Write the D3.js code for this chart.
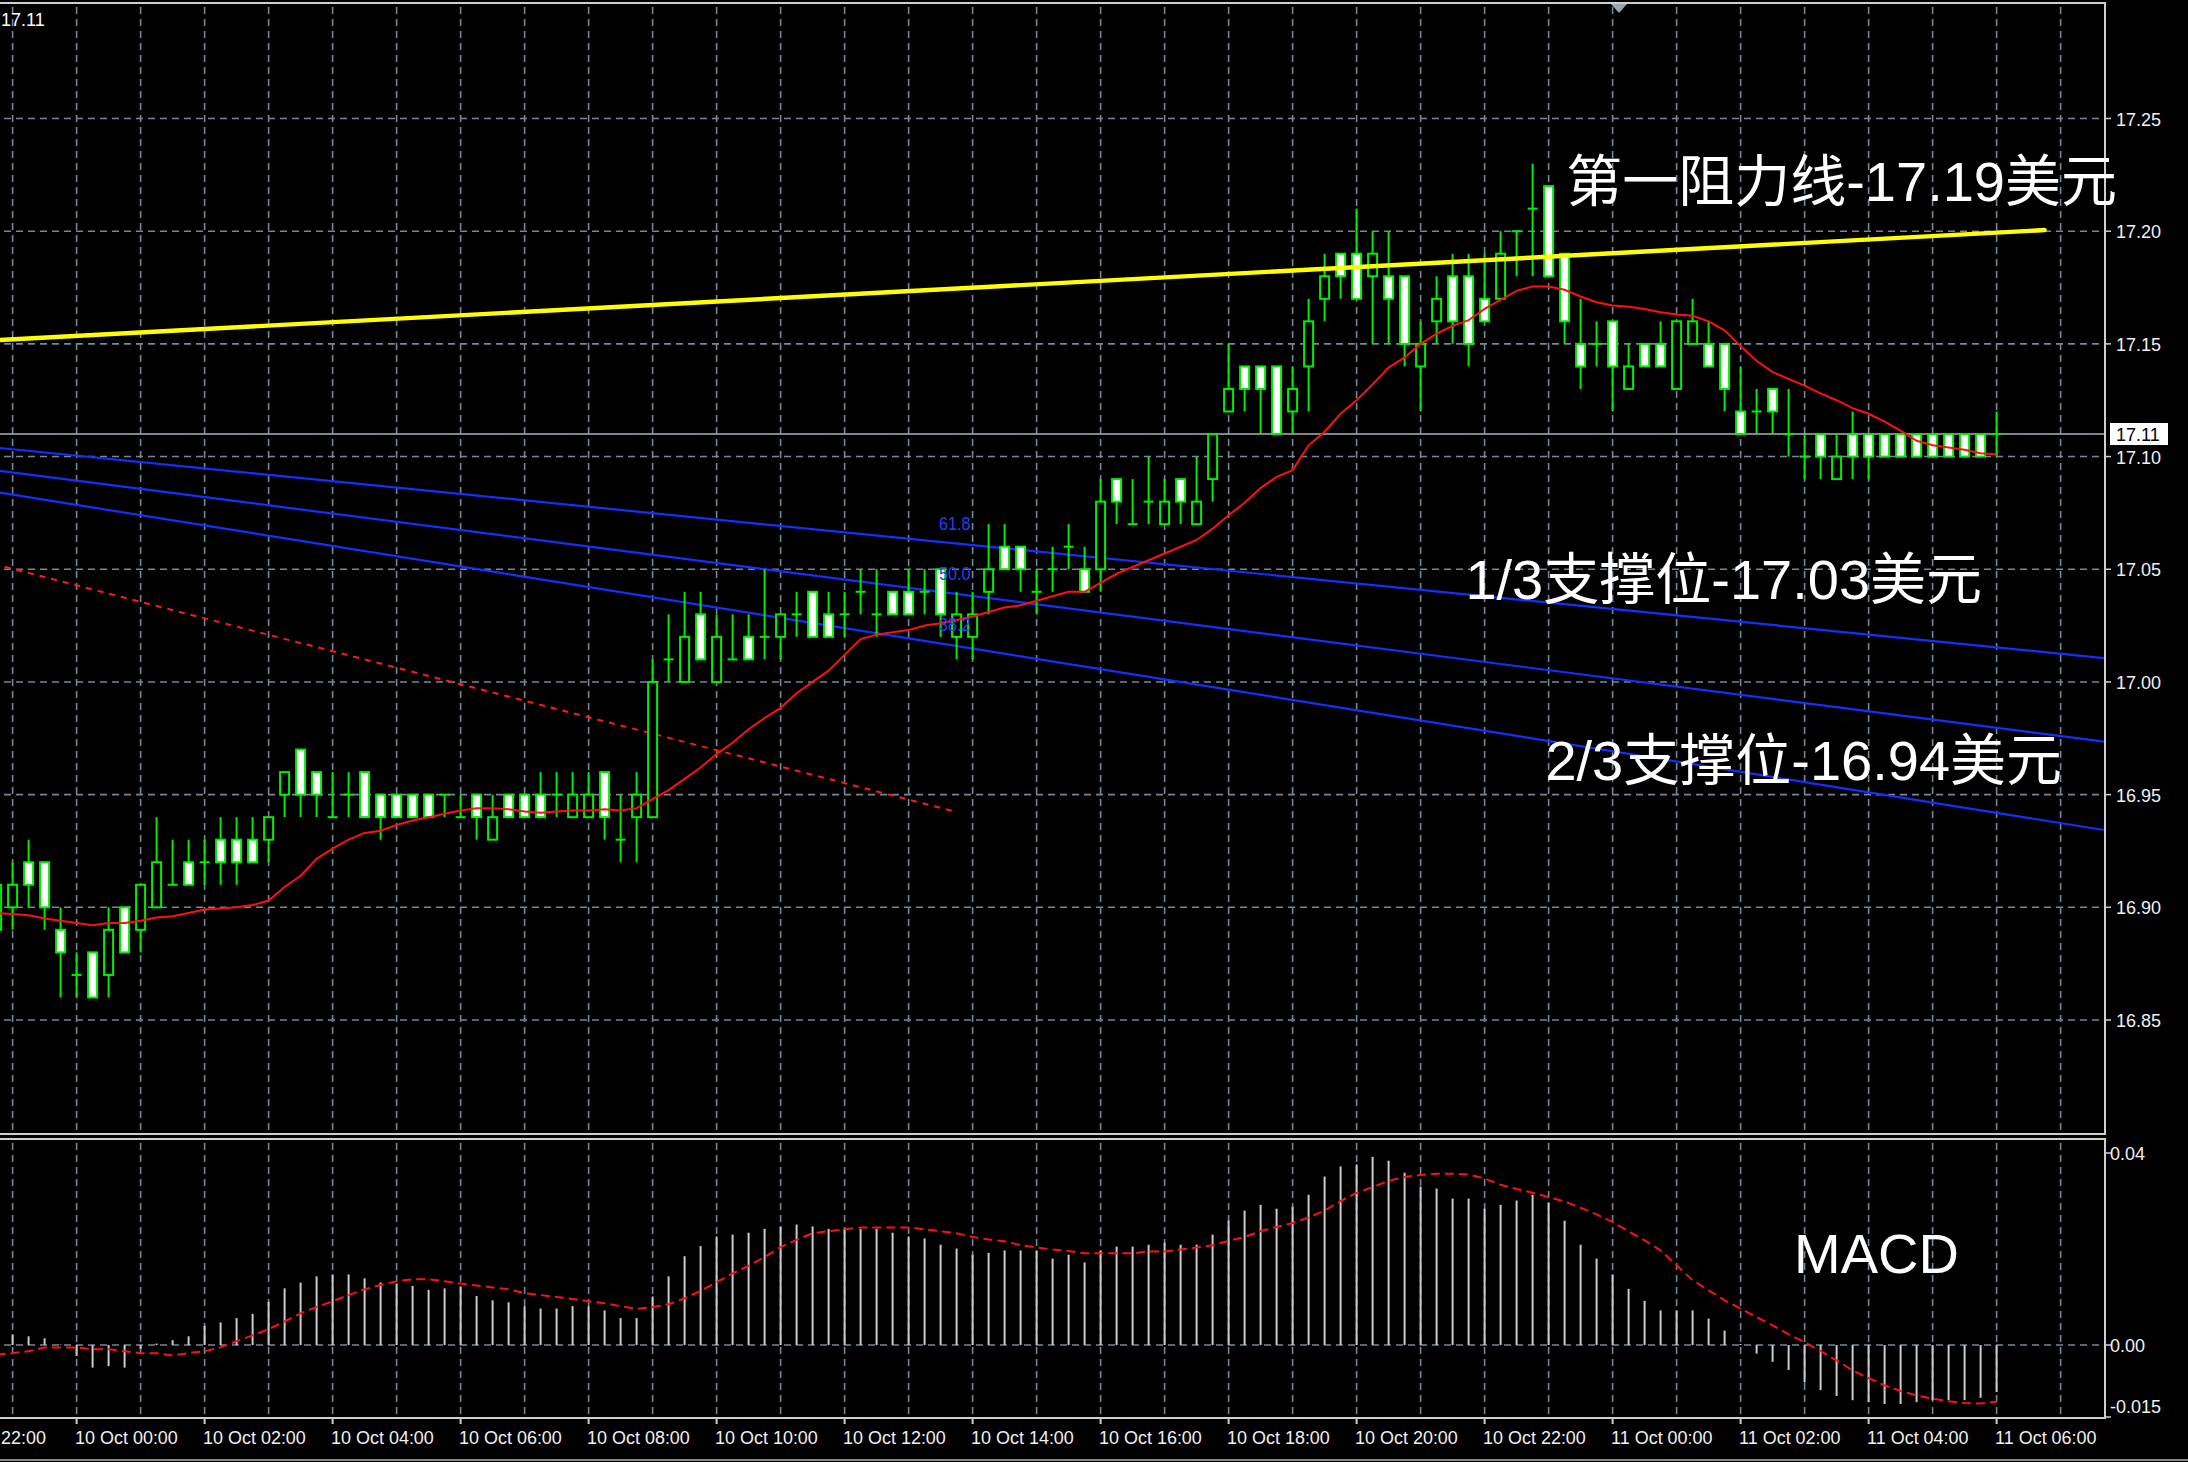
<!DOCTYPE html>
<html><head><meta charset="utf-8">
<script src="https://cdn.jsdelivr.net/npm/d3@7/dist/d3.min.js"></script>
<style>html,body{margin:0;padding:0;background:#000;overflow:hidden}svg{display:block}</style>
</head><body>
<svg id="c" width="2188" height="1462"></svg>
<script>
// ---------------- DATA ----------------
const firstBar = -1; // bar index of first value (bars are 15-minute, index 0 = 9 Oct 23:00)
const opens  = [16.89,16.90,16.92,16.92,16.89,16.87,16.88,16.87,16.90,16.89,16.90,16.91,16.92,16.92,16.93,16.93,16.93,16.93,16.95,16.97,16.96,16.94,16.95,16.96,16.95,16.95,16.95,16.95,16.95,16.94,16.95,16.93,16.95,16.95,16.95,16.95,16.94,16.94,16.96,16.93,16.94,16.94,17.01,17.00,17.03,17.00,17.01,17.02,17.02,17.02,17.03,17.04,17.03,17.03,17.04,17.03,17.04,17.04,17.04,17.05,17.02,17.02,17.04,17.06,17.06,17.04,17.05,17.06,17.05,17.05,17.09,17.07,17.08,17.07,17.09,17.07,17.09,17.12,17.14,17.14,17.14,17.12,17.14,17.17,17.19,17.19,17.18,17.18,17.18,17.14,17.16,17.18,17.18,17.17,17.17,17.20,17.21,17.22,17.19,17.15,17.15,17.16,17.13,17.15,17.15,17.13,17.15,17.15,17.15,17.12,17.12,17.13,17.11,17.10,17.11,17.09,17.11,17.11,17.11,17.11,17.11,17.11,17.11,17.11,17.11,17.11];
const highs  = [16.92,16.92,16.93,16.92,16.90,16.88,16.88,16.90,16.90,16.91,16.94,16.93,16.93,16.93,16.94,16.94,16.94,16.94,16.96,16.97,16.96,16.96,16.96,16.96,16.95,16.95,16.95,16.95,16.95,16.95,16.95,16.95,16.95,16.95,16.96,16.96,16.96,16.96,16.96,16.95,16.96,17.01,17.03,17.04,17.04,17.03,17.03,17.03,17.05,17.03,17.04,17.04,17.04,17.04,17.05,17.05,17.04,17.05,17.05,17.05,17.04,17.04,17.07,17.07,17.06,17.05,17.06,17.07,17.06,17.09,17.09,17.09,17.10,17.09,17.09,17.10,17.11,17.15,17.14,17.14,17.14,17.14,17.17,17.19,17.19,17.21,17.20,17.20,17.18,17.16,17.18,17.19,17.19,17.19,17.20,17.20,17.23,17.22,17.19,17.17,17.16,17.16,17.15,17.15,17.16,17.16,17.17,17.16,17.15,17.14,17.13,17.13,17.13,17.11,17.11,17.11,17.12,17.11,17.11,17.11,17.11,17.11,17.11,17.11,17.11,17.12];
const lows   = [16.89,16.89,16.90,16.89,16.86,16.86,16.86,16.86,16.88,16.88,16.90,16.91,16.91,16.91,16.91,16.91,16.92,16.92,16.94,16.94,16.94,16.94,16.94,16.94,16.93,16.94,16.94,16.94,16.94,16.94,16.93,16.93,16.94,16.94,16.94,16.94,16.94,16.94,16.93,16.92,16.92,16.94,17.00,17.00,17.01,17.00,17.01,17.01,17.01,17.01,17.02,17.02,17.02,17.02,17.03,17.02,17.03,17.03,17.03,17.02,17.01,17.01,17.03,17.05,17.04,17.03,17.04,17.05,17.04,17.04,17.07,17.07,17.07,17.07,17.07,17.07,17.08,17.12,17.12,17.11,17.11,17.11,17.12,17.16,17.17,17.17,17.15,17.15,17.14,17.12,17.15,17.15,17.14,17.16,17.17,17.18,17.18,17.18,17.15,17.13,17.14,17.12,17.13,17.14,17.14,17.13,17.15,17.14,17.12,17.11,17.11,17.11,17.10,17.09,17.09,17.09,17.09,17.09,17.10,17.10,17.10,17.10,17.10,17.10,17.10,17.10];
const closes = [16.91,16.91,16.91,16.90,16.88,16.87,16.86,16.89,16.88,16.91,16.92,16.91,16.91,16.92,16.92,16.92,16.92,16.94,16.96,16.95,16.95,16.94,16.95,16.94,16.94,16.94,16.94,16.94,16.95,16.94,16.94,16.94,16.94,16.94,16.94,16.95,16.95,16.95,16.94,16.93,16.95,17.00,17.01,17.02,17.01,17.02,17.01,17.01,17.02,17.03,17.03,17.02,17.02,17.03,17.04,17.03,17.03,17.03,17.04,17.03,17.03,17.03,17.05,17.05,17.05,17.04,17.05,17.06,17.04,17.08,17.08,17.07,17.08,17.08,17.08,17.08,17.11,17.13,17.13,17.13,17.11,17.13,17.16,17.18,17.18,17.17,17.19,17.17,17.15,17.15,17.17,17.16,17.15,17.16,17.19,17.20,17.21,17.18,17.16,17.14,17.15,17.14,17.14,17.14,17.14,17.16,17.16,17.14,17.13,17.11,17.12,17.12,17.11,17.10,17.10,17.10,17.10,17.10,17.10,17.10,17.10,17.10,17.10,17.10,17.10,17.11];
const maValues = [16.8975,16.897,16.8965,16.895,16.894,16.893,16.892,16.893,16.893,16.894,16.8955,16.896,16.8975,16.899,16.8995,16.900,16.901,16.903,16.909,16.914,16.9215,16.926,16.930,16.933,16.934,16.9365,16.9385,16.940,16.9415,16.943,16.944,16.944,16.9435,16.9425,16.942,16.9425,16.943,16.943,16.9435,16.943,16.944,16.948,16.952,16.957,16.962,16.968,16.973,16.979,16.984,16.9885,16.995,17.000,17.005,17.012,17.019,17.021,17.022,17.023,17.025,17.026,17.0275,17.029,17.031,17.033,17.034,17.036,17.038,17.040,17.040,17.044,17.048,17.051,17.054,17.057,17.060,17.063,17.068,17.074,17.0795,17.086,17.091,17.094,17.105,17.111,17.119,17.125,17.132,17.1395,17.144,17.150,17.1545,17.158,17.1605,17.1655,17.1695,17.1735,17.1755,17.1755,17.174,17.171,17.1685,17.167,17.1665,17.1655,17.164,17.163,17.1625,17.160,17.156,17.149,17.1425,17.1375,17.1345,17.1315,17.128,17.125,17.1215,17.119,17.1155,17.1115,17.107,17.105,17.104,17.103,17.1015,17.101];
const macdHist = [0.002,0.0022,0.0018,0.0014,0.0001,-0.0023,-0.0047,-0.0044,-0.0047,-0.0008,0.0003,0.001,0.0018,0.004,0.0047,0.0056,0.0065,0.009,0.0118,0.013,0.0143,0.0147,0.0147,0.0139,0.013,0.0128,0.0123,0.0115,0.0118,0.0122,0.0102,0.0093,0.0089,0.0081,0.0076,0.0076,0.0081,0.0081,0.0072,0.0056,0.0056,0.0101,0.0143,0.0185,0.0206,0.0226,0.023,0.0234,0.0242,0.0247,0.0251,0.0247,0.0242,0.0242,0.0242,0.0242,0.0234,0.0226,0.0222,0.0209,0.0201,0.0188,0.0192,0.0197,0.0197,0.0197,0.018,0.0188,0.0172,0.0197,0.0205,0.0205,0.0209,0.0213,0.0209,0.0209,0.023,0.0259,0.028,0.0292,0.0284,0.0288,0.0313,0.0351,0.0372,0.0376,0.0392,0.0384,0.0359,0.033,0.0326,0.0305,0.0305,0.0284,0.0292,0.0301,0.0313,0.0297,0.0259,0.0209,0.018,0.0147,0.0117,0.0092,0.0072,0.0072,0.0072,0.0055,0.003,0.0002,-0.0018,-0.0035,-0.0052,-0.0078,-0.0094,-0.0106,-0.0115,-0.0119,-0.0123,-0.0123,-0.0119,-0.0115,-0.0115,-0.0115,-0.011,-0.0098];
const macdSignal = [-0.002,-0.0017,-0.0013,-0.0005,-0.0005,-0.0005,-0.0009,-0.0009,-0.0013,-0.0017,-0.0017,-0.0022,-0.0017,-0.0013,-0.0005,0.0008,0.002,0.0033,0.0049,0.0066,0.0079,0.0091,0.0104,0.0116,0.0125,0.0133,0.0137,0.0137,0.0133,0.0128,0.0124,0.012,0.0116,0.0108,0.0104,0.01,0.0096,0.0091,0.0087,0.0081,0.0075,0.0079,0.0085,0.0097,0.0113,0.0131,0.0149,0.0165,0.0183,0.0204,0.0219,0.0233,0.0237,0.0241,0.0245,0.0245,0.0245,0.0245,0.0241,0.0237,0.0233,0.0225,0.022,0.0216,0.0208,0.0203,0.0199,0.0196,0.0191,0.0191,0.0191,0.0191,0.0195,0.0195,0.0199,0.0203,0.0208,0.0217,0.0225,0.0237,0.0246,0.0254,0.0266,0.028,0.03,0.0317,0.0329,0.0342,0.035,0.0354,0.0357,0.0357,0.0355,0.0347,0.0334,0.0325,0.0317,0.0308,0.0299,0.0286,0.0272,0.0256,0.0237,0.0218,0.0197,0.0166,0.0135,0.0114,0.0093,0.0076,0.0058,0.0041,0.0022,0.0006,-0.0013,-0.0032,-0.0053,-0.0069,-0.0084,-0.0096,-0.0105,-0.0112,-0.0117,-0.0121,-0.0122,-0.0118];
const priceTicks = [16.85,16.90,16.95,17.00,17.05,17.10,17.15,17.20,17.25];
const macdTicks = [0.04,0.00,-0.015];
const macdTickLabels = ["0.04","0.00","-0.015"];
const timeLabels = ["22:00","10 Oct 00:00","10 Oct 02:00","10 Oct 04:00","10 Oct 06:00","10 Oct 08:00","10 Oct 10:00","10 Oct 12:00","10 Oct 14:00","10 Oct 16:00","10 Oct 18:00","10 Oct 20:00","10 Oct 22:00","11 Oct 00:00","11 Oct 02:00","11 Oct 04:00","11 Oct 06:00"];
const timeLabelBars = [-4,4,12,20,28,36,44,52,60,68,76,84,92,100,108,116,124];
const currentPrice = 17.11;
// lines: [bar, price] endpoints
const resistanceLine = [[-0.79,17.1517],[127.0,17.2005]];
const fiboLevels = ["61.8","50.0","38.2"];
const fiboLines = [
  [[-0.79,17.1038],[130.7,17.0106]],
  [[-0.79,17.0937],[130.7,16.9735]],
  [[-0.79,17.0840],[130.7,16.9343]]
];
const dashedTrend = [[-0.5,17.0511],[59.0,16.9423]];
const annotations = [
  {text:"第一阻力线-17.19美元", bar:97.1, price:17.2135},
  {text:"1/3支撑位-17.03美元", bar:90.8, price:17.0370},
  {text:"2/3支撑位-16.94美元", bar:95.8, price:16.9565}
];

// ---------------- LAYOUT ----------------
const svg = d3.select("#c");
const plotRight = 2105, mainTop = 3, mainBottom = 1134, macdTop = 1139, macdBottom = 1418;
const x = d3.scaleLinear().domain([0,124]).range([12.6, 12.6 + 16*124]);
const y = d3.scaleLinear().domain([16.85,17.25]).range([1020,118.5]);
const ym = d3.scaleLinear().domain([0,0.04]).range([1345,1153]);
const gridColor = "#76879a";
const LAT = "'Liberation Sans', Arial, 'Noto Sans CJK SC', sans-serif";

svg.append("rect").attr("width",2188).attr("height",1462).attr("fill","#000");
const defs = svg.append("defs");
defs.append("clipPath").attr("id","cm").append("rect").attr("x",0).attr("y",mainTop).attr("width",plotRight).attr("height",mainBottom-mainTop);
defs.append("clipPath").attr("id","cd").append("rect").attr("x",0).attr("y",macdTop).attr("width",plotRight).attr("height",macdBottom-macdTop);

const main = svg.append("g").attr("clip-path","url(#cm)");
const macd = svg.append("g").attr("clip-path","url(#cd)");

// vertical grid (hourly = every 4 bars)
const gridBars = d3.range(0, 129, 4);
[[main,mainTop,mainBottom],[macd,macdTop,macdBottom]].forEach(([g,t,b])=>{
  g.selectAll(null).data(gridBars).join("line")
    .attr("x1",d=>x(d)).attr("x2",d=>x(d)).attr("y1",t+4).attr("y2",b)
    .attr("stroke",gridColor).attr("stroke-width",1.6).attr("stroke-dasharray","7,5");
});
// horizontal grid
main.selectAll(null).data(priceTicks).join("line")
  .attr("x1",4).attr("x2",plotRight).attr("y1",d=>y(d)).attr("y2",d=>y(d))
  .attr("stroke",gridColor).attr("stroke-width",1.6).attr("stroke-dasharray","7,5");
macd.append("line").attr("x1",4).attr("x2",plotRight).attr("y1",ym(0)).attr("y2",ym(0))
  .attr("stroke",gridColor).attr("stroke-width",1.6).attr("stroke-dasharray","7,5");

// current price line
main.append("line").attr("x1",0).attr("x2",plotRight).attr("y1",y(currentPrice)).attr("y2",y(currentPrice))
  .attr("stroke","#a9b3bc").attr("stroke-width",1.6);

// fibo lines
const lineGen = d3.line().x(d=>x(d[0])).y(d=>y(d[1]));
main.selectAll(null).data(fiboLines).join("path").attr("d",lineGen)
  .attr("fill","none").attr("stroke","#1230ff").attr("stroke-width",2.2);
// dashed red trend line
main.append("path").attr("d",lineGen(dashedTrend)).attr("fill","none")
  .attr("stroke","#ff1a1a").attr("stroke-width",2).attr("stroke-dasharray","6,6");

// candles
const bars = opens.map((o,k)=>({i:firstBar+k,o,h:highs[k],l:lows[k],c:closes[k]}));
const cg = main.append("g");
cg.selectAll(null).data(bars).join("line")
  .attr("x1",d=>x(d.i)).attr("x2",d=>x(d.i)).attr("y1",d=>y(d.h)).attr("y2",d=>y(d.l))
  .attr("stroke","#00ee00").attr("stroke-width",2);
cg.selectAll(null).data(bars.filter(d=>d.o!==d.c)).join("rect")
  .attr("x",d=>x(d.i)-4.5).attr("width",9)
  .attr("y",d=>y(Math.max(d.o,d.c))).attr("height",d=>Math.abs(y(d.o)-y(d.c)))
  .attr("fill",d=>d.c<d.o?"#ffffff":"#000000").attr("stroke","#00ee00").attr("stroke-width",2);
cg.selectAll(null).data(bars.filter(d=>d.o===d.c)).join("line")
  .attr("x1",d=>x(d.i)-5).attr("x2",d=>x(d.i)+5).attr("y1",d=>y(d.o)).attr("y2",d=>y(d.o))
  .attr("stroke","#00ee00").attr("stroke-width",2);

// moving average
main.append("path").datum(maValues)
  .attr("d",d3.line().x((d,k)=>x(firstBar+k)).y(d=>y(d)))
  .attr("fill","none").attr("stroke","#ff1010").attr("stroke-width",2);

// resistance line (yellow)
main.append("path").attr("d",lineGen(resistanceLine)).attr("fill","none")
  .attr("stroke","#ffff00").attr("stroke-width",4.4).attr("stroke-linecap","round");

// fibo labels
const fiboLabelBar = 57.9;
fiboLines.forEach((ln,k)=>{
  const t = (fiboLabelBar - ln[0][0])/(ln[1][0]-ln[0][0]);
  const p = ln[0][1] + t*(ln[1][1]-ln[0][1]);
  const lx = x(fiboLabelBar);
  main.append("text").attr("x",0).attr("y",0)
    .attr("fill","#2040ff").attr("font-family",LAT).attr("font-size",18)
    .attr("transform",`translate(${lx},${y(p)-12}) scale(0.9,1)`)
    .text(fiboLevels[k]);
});

// MACD histogram
const hist = macdHist.map((v,k)=>({i:firstBar+k,v}));
macd.selectAll(null).data(hist).join("line")
  .attr("x1",d=>x(d.i)).attr("x2",d=>x(d.i)).attr("y1",ym(0)).attr("y2",d=>ym(d.v))
  .attr("stroke","#c6ccd2").attr("stroke-width",2);
macd.append("path").datum(macdSignal)
  .attr("d",d3.line().x((d,k)=>x(firstBar+k)).y(d=>ym(d)))
  .attr("fill","none").attr("stroke","#ff1010").attr("stroke-width",2).attr("stroke-dasharray","9,5");

// borders
const bc = "#cfcfcf";
svg.append("rect").attr("x",-2).attr("y",mainTop).attr("width",plotRight+2).attr("height",mainBottom-mainTop)
  .attr("fill","none").attr("stroke",bc).attr("stroke-width",2);
svg.append("rect").attr("x",-2).attr("y",macdTop).attr("width",plotRight+2).attr("height",macdBottom-macdTop)
  .attr("fill","none").attr("stroke",bc).attr("stroke-width",2);
svg.append("line").attr("x1",0).attr("x2",2188).attr("y1",1460).attr("y2",1460).attr("stroke","#8a8a8a").attr("stroke-width",2);

// shift marker
svg.append("path").attr("d","M1611,4 L1627,4 L1619,13 Z").attr("fill","#9aa4ae");

// price axis
const axisFont = LAT;
svg.selectAll(null).data(priceTicks).join("line")
  .attr("x1",plotRight).attr("x2",plotRight+6).attr("y1",d=>y(d)).attr("y2",d=>y(d)).attr("stroke",bc).attr("stroke-width",1.5);
svg.selectAll(null).data(priceTicks).join("text")
  .attr("x",2116).attr("y",d=>y(d)+7).attr("fill","#f0f0f0").attr("font-family",axisFont).attr("font-size",18)
  .text(d=>d.toFixed(2));
// current price box
svg.append("rect").attr("x",2110).attr("y",y(currentPrice)-11).attr("width",58).attr("height",22).attr("fill","#ffffff");
svg.append("text").attr("x",2116).attr("y",y(currentPrice)+7).attr("fill","#000").attr("font-family",axisFont).attr("font-size",18).text(currentPrice.toFixed(2));
// top-left label
svg.append("text").attr("x",1).attr("y",26).attr("fill","#ffffff").attr("font-family",axisFont).attr("font-size",18).text(currentPrice.toFixed(2));

// MACD axis
const macdLabelY = [ym(0.04)+7, ym(0)+7, macdBottom-5];
macdTicks.forEach((v,k)=>{
  svg.append("line").attr("x1",plotRight).attr("x2",plotRight+6).attr("y1",ym(v)).attr("y2",ym(v)).attr("stroke",bc).attr("stroke-width",1.5);
  svg.append("text").attr("x",2110).attr("y",macdLabelY[k]).attr("fill","#f0f0f0").attr("font-family",axisFont).attr("font-size",18).text(macdTickLabels[k]);
});

// time axis
timeLabelBars.forEach((b,k)=>{
  const tx = x(b);
  if (tx > 0) svg.append("line").attr("x1",tx).attr("x2",tx).attr("y1",macdBottom).attr("y2",macdBottom+6).attr("stroke",bc).attr("stroke-width",2);
  const lx = tx > 0 ? tx - 1.5 : 1;
  svg.append("text").attr("x",0).attr("y",0).attr("fill","#f0f0f0").attr("font-family",axisFont).attr("font-size",18.5)
    .attr("transform",`translate(${lx},1444) scale(0.97,1)`).text(timeLabels[k]);
});

// annotations
annotations.forEach(a=>{
  svg.append("text").attr("x",x(a.bar)).attr("y",y(a.price)).attr("fill","#ffffff")
    .attr("font-family",LAT).attr("font-size",56).text(a.text);
});
svg.append("text").attr("x",1794).attr("y",1273).attr("fill","#ffffff").attr("font-family",LAT).attr("font-size",56).text("MACD");
</script>
</body></html>
